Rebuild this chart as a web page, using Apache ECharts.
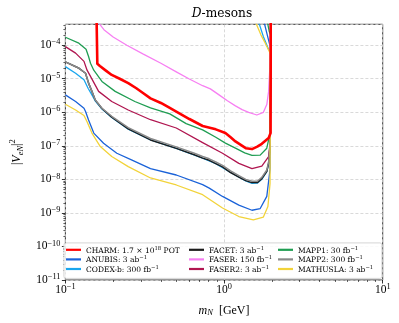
<!DOCTYPE html>
<html><head><meta charset="utf-8">
<script src="https://cdn.jsdelivr.net/npm/echarts@6/dist/echarts.min.js"></script>
<style>html,body{margin:0;padding:0;background:#fff}#c{width:399px;height:323px}</style>
</head><body><div id="c"></div>
<script>
// ---------- data ----------
const xTickExponents = [-1, 0, 1];
const yTickExponents = [-11, -10, -9, -8, -7, -6, -5, -4];
const xRange = [0.1, 10];
const yRange = [1e-11, 4.2e-4];
const seriesNames = ['CHARM','ANUBIS','CODEX-b','FACET','FASER','FASER2','MAPP1','MAPP2','MATHUSLA'];
const legendText = {
  'CHARM':   ['CHARM: 1.7 × 10', '18', ' POT'],
  'ANUBIS':  ['ANUBIS: 3 ab', '−1', ''],
  'CODEX-b': ['CODEX-b: 300 fb', '−1', ''],
  'FACET':   ['FACET: 3 ab', '−1', ''],
  'FASER':   ['FASER: 150 fb', '−1', ''],
  'FASER2':  ['FASER2: 3 ab', '−1', ''],
  'MAPP1':   ['MAPP1: 30 fb', '−1', ''],
  'MAPP2':   ['MAPP2: 300 fb', '−1', ''],
  'MATHUSLA':['MATHUSLA: 3 ab', '−1', '']
};

const CHARM = [[0.157,1e-3],[0.159,2.8e-5],[0.165,2.4e-5],[0.18,1.75e-5],[0.196,1.3e-5],[0.22,1.0e-5],[0.249,7.4e-6],[0.28,5.2e-6],[0.31,3.7e-6],[0.344,2.6e-6],[0.40,1.9e-6],[0.455,1.35e-6],[0.50,1.05e-6],[0.605,6.3e-7],[0.733,3.9e-7],[0.887,3.1e-7],[1.02,2.4e-7],[1.1,1.8e-7],[1.18,1.35e-7],[1.37,8.5e-8],[1.5,8.0e-8],[1.62,9.5e-8],[1.73,1.15e-7],[1.91,1.7e-7],[1.965,2.4e-7],[1.97,1e-3]];
const ANUBIS = [[0.1,3.3e-6],[0.116,2.1e-6],[0.131,1.32e-6],[0.134,1.05e-6],[0.140,5.9e-7],[0.151,2.4e-7],[0.174,1.2e-7],[0.211,6e-8],[0.261,3.8e-8],[0.344,2.1e-8],[0.5,1.35e-8],[0.733,7e-9],[0.807,5.5e-9],[0.978,3.1e-9],[1.24,1.7e-9],[1.5,1.2e-9],[1.69,1.35e-9],[1.86,3.1e-9],[1.95,2e-8],[1.962,1e-6],[1.968,9e-5],[1.93,1.15e-4],[1.86,2.3e-4],[1.77,6e-4]];
const CODEXB = [[0.1,2.3e-5],[0.116,1.46e-5],[0.131,9.3e-6],[0.139,5.2e-6],[0.147,3.3e-6],[0.154,2.2e-6],[0.170,1.25e-6],[0.196,7.0e-7],[0.249,3.15e-7],[0.344,1.5e-7],[0.5,8.4e-8],[0.733,4.3e-8],[0.887,2.95e-8],[1.1,1.6e-8],[1.37,9e-9],[1.5,7.6e-9],[1.62,7.7e-9],[1.73,1.0e-8],[1.86,1.7e-8],[1.91,3.0e-8],[1.95,1.0e-7],[1.962,1e-5],[1.965,6.5e-5],[1.91,7.5e-5],[1.77,1.8e-4],[1.63,6e-4]];
const FACET = [[0.1,3.2e-5],[0.122,2.05e-5],[0.134,1.46e-5],[0.140,7.4e-6],[0.147,4.2e-6],[0.154,2.35e-6],[0.170,1.3e-6],[0.196,7.2e-7],[0.249,3.2e-7],[0.344,1.5e-7],[0.5,8.4e-8],[0.65,5.4e-8],[0.733,4.3e-8],[0.807,3.7e-8],[0.887,2.95e-8],[0.978,2.35e-8],[1.1,1.6e-8],[1.24,1.17e-8],[1.37,9.2e-9],[1.5,8.0e-9],[1.62,8.0e-9],[1.73,1.05e-8],[1.86,1.75e-8],[1.91,3.0e-8],[1.95,1.0e-7],[1.965,1e-5],[1.97,1e-3]];
const FASER = [[0.16,5e-4],[0.175,2.9e-4],[0.2,1.75e-4],[0.244,1.0e-4],[0.31,5.4e-5],[0.4,2.9e-5],[0.5,1.6e-5],[0.6,1.0e-5],[0.733,6.2e-6],[0.82,5.0e-6],[0.93,3.3e-6],[1.05,2.2e-6],[1.18,1.55e-6],[1.3,1.2e-6],[1.43,1.0e-6],[1.61,8.3e-7],[1.77,1.0e-6],[1.86,1.7e-6],[1.91,4.2e-6],[1.94,1.8e-5],[1.96,1e-3]];
const FASER2 = [[0.1,9.1e-5],[0.116,5.8e-5],[0.131,3.3e-5],[0.137,1.8e-5],[0.146,1.04e-5],[0.162,4.2e-6],[0.196,2.1e-6],[0.249,1.17e-6],[0.344,6e-7],[0.5,3.4e-7],[0.733,1.25e-7],[0.978,6e-8],[1.24,3e-8],[1.5,2.1e-8],[1.73,2.5e-8],[1.91,4.8e-8],[1.95,1.2e-7],[1.965,1e-5],[1.97,1e-3]];
const MAPP1 = [[0.1,1.73e-4],[0.1216,1.15e-4],[0.135,7.6e-5],[0.14,4.6e-5],[0.144,2.9e-5],[0.151,1.8e-5],[0.17,8.3e-6],[0.206,4.2e-6],[0.274,2.1e-6],[0.344,1.35e-6],[0.455,9e-7],[0.577,4.6e-7],[0.733,3.0e-7],[0.887,1.8e-7],[1.02,1.2e-7],[1.18,8.5e-8],[1.35,6.2e-8],[1.5,5.2e-8],[1.69,5.3e-8],[1.86,8.5e-8],[1.95,2.4e-7],[1.965,1e-5],[1.97,2e-4],[1.93,2.5e-4],[1.86,6e-4]];
const MAPP2 = [[0.1,3.2e-5],[0.122,2.05e-5],[0.134,1.46e-5],[0.140,7.4e-6],[0.147,4.2e-6],[0.154,2.35e-6],[0.170,1.32e-6],[0.196,7.6e-7],[0.249,3.5e-7],[0.344,1.65e-7],[0.5,9.3e-8],[0.65,6e-8],[0.733,4.8e-8],[0.807,4.1e-8],[0.887,3.3e-8],[0.978,2.6e-8],[1.1,1.8e-8],[1.24,1.3e-8],[1.37,1.0e-8],[1.5,8.8e-9],[1.62,8.8e-9],[1.73,1.15e-8],[1.86,1.9e-8],[1.91,3.3e-8],[1.95,1.1e-7],[1.965,1e-5],[1.97,1e-3]];
const MATHUSLA = [[0.1,1.74e-6],[0.116,1.17e-6],[0.131,8e-7],[0.137,5.2e-7],[0.147,2.4e-7],[0.166,9.5e-8],[0.196,4.8e-8],[0.249,2.4e-8],[0.344,1.1e-8],[0.5,6.8e-9],[0.733,3.5e-9],[0.978,1.4e-9],[1.24,7.8e-10],[1.53,6.2e-10],[1.77,7.5e-10],[1.89,1.55e-9],[1.95,7.6e-9],[1.955,1e-6],[1.957,5.5e-5],[1.93,6.5e-5],[1.82,1.15e-4],[1.71,2e-4],[1.55,6e-4]];

const seriesData = {'CHARM':CHARM,'ANUBIS':ANUBIS,'CODEX-b':CODEXB,'FACET':FACET,'FASER':FASER,'FASER2':FASER2,'MAPP1':MAPP1,'MAPP2':MAPP2,'MATHUSLA':MATHUSLA};

// ---------- styles ----------
const colors = {'CHARM':'#ff0000','ANUBIS':'#1a62d8','CODEX-b':'#19a6ee','FACET':'#1c1c1c','FASER':'#f77ff2','FASER2':'#b01650','MAPP1':'#1f9d52','MAPP2':'#8a8a8a','MATHUSLA':'#f2d33a'};
const widths = {'CHARM':2.6,'ANUBIS':1.3,'CODEX-b':1.3,'FACET':1.5,'FASER':1.3,'FASER2':1.3,'MAPP1':1.3,'MAPP2':1.5,'MATHUSLA':1.3};
const TF = 'Liberation Serif';
const DF = 'DejaVu Serif';

const minus = '−';
function expLabel(v){
  const n = Math.round(v);
  if (Math.abs(v - n) > 1e-6) return '';
  return '{b|10}{s|' + (n < 0 ? minus : '') + Math.abs(n) + '}';
}
const tickRich = {
  b:{fontFamily:TF,fontSize:11.5,color:'#000',verticalAlign:'bottom',lineHeight:12},
  s:{fontFamily:TF,fontSize:8.3,color:'#000',verticalAlign:'bottom',lineHeight:8,padding:[0,0,5,0]}
};
const lx = [Math.log10(xRange[0]), Math.log10(xRange[1])];
const ly = [Math.log10(yRange[0]), Math.log10(yRange[1])];
const xMinor = [], yMinor = [];
for (let n = xTickExponents[0]; n < xTickExponents[xTickExponents.length-1]; n++)
  for (let k = 2; k <= 9; k++) xMinor.push(n + Math.log10(k));
for (let n = yTickExponents[0]; n <= yTickExponents[yTickExponents.length-1]; n++)
  for (let k = 2; k <= 9; k++) { const v = n + Math.log10(k); if (v <= ly[1]) yMinor.push(v); }

const chart = echarts.init(document.getElementById('c'), null, {renderer:'canvas'});
const option = {
  animation:false,
  grid:{left:61,right:16.3,top:24.3,bottom:43,show:true,borderColor:'#333',borderWidth:1,backgroundColor:'transparent'},
  graphic:[
    {type:'text',x:222,y:14,z:10,style:{text:'{i|D}{r|-mesons}',textAlign:'center',textVerticalAlign:'middle',
      rich:{i:{fontFamily:DF,fontStyle:'italic',fontSize:12.2,fill:'#000'},r:{fontFamily:DF,fontSize:12.2,fill:'#000'}}}},
    {type:'rect',left:63.5,top:242.5,z:9,shape:{width:318,height:35.5,r:2},style:{fill:'rgba(255,255,255,0.85)',stroke:'#cccccc',lineWidth:0.8}}
  ],
  xAxis:[
    {type:'log',logBase:10,min:xRange[0],max:xRange[1],position:'bottom',show:false},
    {type:'value',min:lx[0],max:lx[1],interval:1,position:'bottom',
      axisLine:{show:false,onZero:false},
      axisTick:{show:true,length:3.5,lineStyle:{color:'#000',width:0.8}},
      axisLabel:{formatter:expLabel,rich:tickRich,margin:4,showMinLabel:true,showMaxLabel:true},
      splitLine:{show:true,lineStyle:{type:[3,2],color:'#cfcfcf',width:0.8}},
      name:'{i|m}{sub|N}{r|  [GeV]}',nameLocation:'middle',nameGap:24,
      nameTextStyle:{rich:{i:{fontFamily:TF,fontStyle:'italic',fontSize:12,color:'#000',verticalAlign:'bottom',lineHeight:13},
        sub:{fontFamily:TF,fontStyle:'italic',fontSize:8.5,color:'#000',verticalAlign:'bottom',lineHeight:9},
        r:{fontFamily:TF,fontSize:12,color:'#000',verticalAlign:'bottom',lineHeight:13}}}},
    {type:'value',min:lx[0],max:lx[1],position:'bottom',
      axisLine:{show:false,onZero:false},axisLabel:{show:false},splitLine:{show:false},
      axisTick:{show:true,length:2,customValues:xMinor,lineStyle:{color:'#000',width:0.6}}}
  ],
  yAxis:[
    {type:'log',logBase:10,min:yRange[0],max:yRange[1],position:'left',show:false},
    {type:'value',min:ly[0],max:ly[1],interval:1,position:'left',
      axisLine:{show:false,onZero:false},
      axisTick:{show:true,length:3.5,lineStyle:{color:'#000',width:0.8}},
      axisLabel:{formatter:expLabel,rich:tickRich,margin:5,showMaxLabel:false},
      splitLine:{show:true,lineStyle:{type:[3,2],color:'#cfcfcf',width:0.8}},
      name:'{r||}{i|V}{sub|eN}{r||}{sup|2}',nameLocation:'middle',nameGap:41,nameRotate:90,
      nameTextStyle:{rich:{
        r:{fontFamily:TF,fontSize:12,color:'#000',verticalAlign:'bottom',lineHeight:13},
        i:{fontFamily:TF,fontStyle:'italic',fontSize:12,color:'#000',verticalAlign:'bottom',lineHeight:13},
        sub:{fontFamily:TF,fontStyle:'italic',fontSize:8.5,color:'#000',verticalAlign:'bottom',lineHeight:9,padding:[0,0,-2,0]},
        sup:{fontFamily:TF,fontSize:8.5,color:'#000',verticalAlign:'bottom',lineHeight:9,padding:[0,0,6,0]}}}},
    {type:'value',min:ly[0],max:ly[1],position:'left',
      axisLine:{show:false,onZero:false},axisLabel:{show:false},splitLine:{show:false},
      axisTick:{show:true,length:2,customValues:yMinor,lineStyle:{color:'#000',width:0.6}}}
  ],
  legend: [0,1,2].map(c => ({
    data: seriesNames.slice(c*3, c*3+3),
    orient:'vertical', left:[66,189,278][c], top:245, z:10,
    icon:'rect', itemWidth:15, itemHeight:2.2, itemGap:0, padding:0,
    selectedMode:false,
    formatter: name => { const t = legendText[name]; return '{t|' + t[0] + '}{s|' + t[1] + '}' + (t[2] ? '{t|' + t[2] + '}' : ''); },
    textStyle:{fontFamily:DF,fontSize:7.5,color:'#000',lineHeight:9.6,
      rich:{t:{fontFamily:DF,fontSize:7.5,color:'#000',verticalAlign:'bottom',lineHeight:9.6},
            s:{fontFamily:DF,fontSize:5.3,color:'#000',verticalAlign:'bottom',lineHeight:6,padding:[0,0,3.6,0]}}}
  })),
  series: seriesNames.map(name => ({
    name, type:'line', xAxisIndex:0, yAxisIndex:0, data:seriesData[name],
    symbol:'none', clip:true, z: name === 'CHARM' ? 4 : 3,
    lineStyle:{color:colors[name], width:widths[name], join:'round'},
    itemStyle:{color:colors[name]}
  }))
};
chart.setOption(option);
</script></body></html>
